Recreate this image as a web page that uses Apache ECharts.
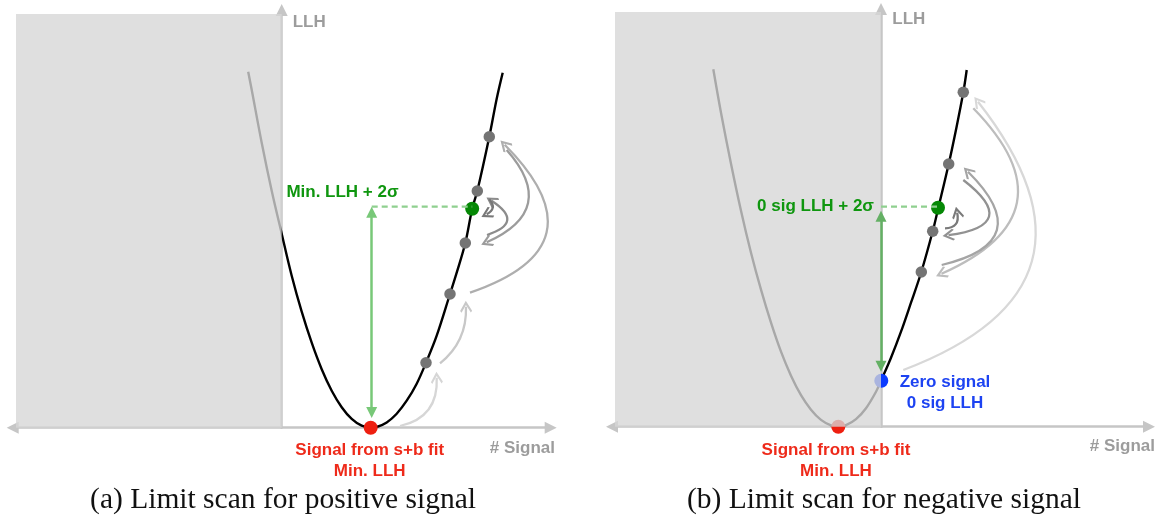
<!DOCTYPE html>
<html><head><meta charset="utf-8">
<script src="https://cdn.jsdelivr.net/npm/echarts@6/dist/echarts.min.js"></script>
<style>html,body{margin:0;padding:0;background:#fff}#c{width:1168px;height:523px}</style>
</head><body><div id="c"></div>
<script>
// ---------- Panel (a): limit scan for positive signal ----------
const curveA = [[-3.35,35.6],[-3,33.8],[-2,28.5],[-1,23.7],[0,19.4],[1,15.2],[2,11.6],[3,8.5],[4,5.85],[5,3.7],[6,2.05],[7,0.88],[8,0.2],[8.9,0],
  [9.5,0.07],[10.5,0.53],[11.5,1.4],[12.5,2.7],[13.5,4.4],[14.43,6.5],[15.5,9.2],[16.83,13.37],[17.5,15.5],[18.36,18.47],[19.05,21.9],[19.56,23.67],[20.76,29.1],[21.5,32.9],[22.1,35.5]];
const minDotA = [8.9, 0];
const scanDotsA = [[14.43,6.5],[16.83,13.37],[18.36,18.47],[19.56,23.67],[20.76,29.1]];
const limitDotA = [19.05, 21.9];
const sigmaArrowA = [[9.0,1.52],[9.0,21.55]];
const sigmaDashA = [[9.0,22.1],[19.05,22.1]];
const scanArrowsA = [
  [[11.83,0.17],[15.5,5.0]],
  [[15.83,6.44],[18.43,12.1]],
  [[18.83,13.5],[22.3,28.3]],
  [[22.5,27.77],[20.5,18.55]],
  [[20.53,19.27],[20.98,22.7]],
  [[20.76,22.84],[20.5,21.35]]
];
const excludedA = [-26.57, 0, 0, 41.37];
const labelsA = [
  ['Min. LLH + 2σ', 6.08, 23.54, 'green'],
  ['Signal from s+b fit\nMin. LLH', 8.8, -3.28, 'red']
];

// ---------- Panel (b): limit scan for negative signal ----------
const curveB = [[-16.77,35.74],[-16,31.4],[-15,26.3],[-14,21.6],[-13,17.4],[-12,13.7],[-11,10.4],[-10,7.5],[-9,5.1],[-8,3.15],[-7,1.7],[-6,0.68],[-5,0.13],[-4.27,0],
  [-3.5,0.15],[-2.5,0.75],[-1.5,1.85],[-0.5,3.5],[0,4.6],[1,6.9],[2,9.5],[3,12.4],[4.03,15.47],[5.17,19.54],[5.7,21.75],[6.77,26.27],[7.5,29.7],[8.23,33.44],[8.57,35.67]];
const minDotB = [-4.27, 0];
const zeroDotB = [0.03, 4.6];
const scanDotsB = [[4.03,15.47],[5.17,19.54],[6.77,26.27],[8.23,33.44]];
const limitDotB = [5.7, 21.9];
const sigmaArrowB = [[0,6.05],[0,21.05]];
const sigmaDashB = [[0,22.0],[5.7,22.0]];
const scanArrowsB = [
  [[2.23,5.67],[9.7,32.5]],
  [[9.23,31.84],[6.05,15.3]],
  [[6.07,16.17],[8.7,25.5]],
  [[8.23,24.67],[6.75,19.15]],
  [[6.4,19.84],[7.62,21.4]]
];
const excludedB = [-26.6, 0, 0, 41.47];
const labelsB = [
  ['0 sig LLH + 2σ', -0.7, 22.0, 'green', 'right'],
  ['Zero signal\n0 sig LLH', 6.4, 3.37, 'blue'],
  ['Signal from s+b fit\nMin. LLH', -4.5, -3.38, 'red']
];
const captions = ['(a) Limit scan for positive signal', '(b) Limit scan for negative signal'];

// ---------- styles ----------
const COLORS = {green:'#0f960f', red:'#ee2a1a', blue:'#1d43f2'};
const SHADES_A = ['#d6d6d6','#c8c8c8','#aeaeae','#9c9c9c','#8c8c8c','#787878'];
const CURV_A = [-0.42,-0.25,-0.8,0.68,-1.05,0.64];
const SHADES_B = ['#d8d8d8','#bdbdbd','#a5a5a5','#929292','#7a7a7a'];
const CURV_B = [-0.68,0.72,-0.9,1.2,-0.6];
const CHEVRON = 'path://M5,0 L10,6.2 L8.9,7.3 L5,2.6 L1.1,7.3 L0,6.2 Z';
const SANS = 'Liberation Sans';

function xAx(i, min, max, gap, padTop) {
  return {type:'value', gridIndex:i, min:min, max:max, name:'# Signal', nameLocation:'end', nameGap:gap,
    nameTextStyle:{color:'#9c9c9c', fontFamily:SANS, fontWeight:'bold', fontSize:17, lineHeight:17, align:'right', verticalAlign:'top', padding:[padTop,0,0,0]},
    axisLine:{show:true, onZero:true, symbol:['triangle','triangle'], symbolSize:[12,12], lineStyle:{color:'#c6c6c6', width:2.5}},
    axisTick:{show:false}, axisLabel:{show:false}, splitLine:{show:false}};
}
function yAx(i, max, gap, padLeft) {
  return {type:'value', gridIndex:i, min:0, max:max, name:'LLH', nameLocation:'end', nameGap:gap,
    nameTextStyle:{color:'#9c9c9c', fontFamily:SANS, fontWeight:'bold', fontSize:17, align:'left', verticalAlign:'middle', padding:[0,0,0,padLeft]},
    axisLine:{show:true, onZero:true, symbol:['none','triangle'], symbolSize:[12,12], lineStyle:{color:'#c6c6c6', width:2.5}},
    axisTick:{show:false}, axisLabel:{show:false}, splitLine:{show:false}};
}

function panelSeries(i, d) {
  const ax = {xAxisIndex:i, yAxisIndex:i};
  const dots = [{value:d.minDot, symbolSize:14, itemStyle:{color:'#ee1f10'}}];
  if (d.zeroDot) dots.push({value:d.zeroDot, symbolSize:14, itemStyle:{color:'#0b3bff'}});
  d.scanDots.forEach(v => dots.push({value:v, symbolSize:11.5, itemStyle:{color:'#747474'}}));
  dots.push({value:d.limitDot, symbolSize:14, itemStyle:{color:'#058805'}});
  return [
    Object.assign({type:'line', data:d.curve, smooth:0.35, showSymbol:false, silent:true, z:2,
      lineStyle:{color:'#000', width:2.4, opacity:1}}, ax),
    Object.assign({type:'lines', coordinateSystem:'cartesian2d', z:3, silent:true,
      symbol:['none', CHEVRON], symbolSize:[16,12],
      data:d.arrows.map((c,k)=>({coords:c, lineStyle:{color:d.shades[k], curveness:d.curv[k], width:2.3, opacity:1}}))}, ax),
    Object.assign({type:'scatter', z:3, clip:false, silent:true, itemStyle:{opacity:1}, data:dots}, ax),
    Object.assign({type:'custom', z:5, silent:true, clip:false, data:[d.excluded], encode:{x:[0,2], y:[1,3]},
      renderItem:(p, api) => {
        const a = api.coord([api.value(0), api.value(3)]);
        const b = api.coord([api.value(2), api.value(1)]);
        return {type:'rect', shape:{x:a[0], y:a[1], width:b[0]-a[0], height:b[1]-a[1]}, style:{fill:'rgba(214,214,214,0.785)'}};
      }}, ax),
    Object.assign({type:'line', data:d.dash, showSymbol:false, silent:true, z:6,
      lineStyle:{color:'#8fd08f', width:2.2, type:[6,4], opacity:1}}, ax),
    Object.assign({type:'lines', coordinateSystem:'cartesian2d', z:7, silent:true,
      symbol:['triangle','triangle'], symbolSize:[11,11],
      data:[{coords:d.sigmaArrow, lineStyle:{color:d.arrowColor, width:2.5, curveness:0, opacity:1}}]}, ax),
    Object.assign({type:'scatter', z:8, clip:false, silent:true, symbolSize:1, itemStyle:{color:'rgba(0,0,0,0)', opacity:1},
      label:{show:true, position:'inside', formatter:'{b}', fontFamily:SANS, fontWeight:'bold', fontSize:17, lineHeight:21, opacity:1},
      data:d.labels.map(l => ({name:l[0], value:[l[1], l[2]], label:{color:COLORS[l[3]], align:l[4] || 'center'}}))}, ax)
  ];
}

const chart = echarts.init(document.getElementById('c'), null, {renderer:'canvas'});
chart.setOption({
  animation:false,
  backgroundColor:'#ffffff',
  grid:[
    {left:12.7, top:10, width:538, height:417.7},
    {left:612, top:9, width:537, height:417.7}
  ],
  xAxis:[xAx(0, -26.9, 26.9, 4.3, 12), xAx(1, -26.9, 26.8, 6, 11.5)],
  yAxis:[yAx(0, 41.77, -12, 11), yAx(1, 41.77, -10, 11.3)],
  series:[
    ...panelSeries(0, {curve:curveA, minDot:minDotA, scanDots:scanDotsA, limitDot:limitDotA, arrows:scanArrowsA,
      shades:SHADES_A, curv:CURV_A, excluded:excludedA, dash:sigmaDashA, sigmaArrow:sigmaArrowA, arrowColor:'#78c878', labels:labelsA}),
    ...panelSeries(1, {curve:curveB, minDot:minDotB, zeroDot:zeroDotB, scanDots:scanDotsB, limitDot:limitDotB, arrows:scanArrowsB,
      shades:SHADES_B, curv:CURV_B, excluded:excludedB, dash:sigmaDashB, sigmaArrow:sigmaArrowB, arrowColor:'#64b064', labels:labelsB})
  ],
  graphic:[
    {type:'text', x:283, y:500, style:{text:captions[0], font:'29.5px "Liberation Serif"', fill:'#111', align:'center', verticalAlign:'middle', textAlign:'center', textVerticalAlign:'middle'}},
    {type:'text', x:884, y:500, style:{text:captions[1], font:'29.5px "Liberation Serif"', fill:'#111', align:'center', verticalAlign:'middle', textAlign:'center', textVerticalAlign:'middle'}}
  ]
});
</script></body></html>
